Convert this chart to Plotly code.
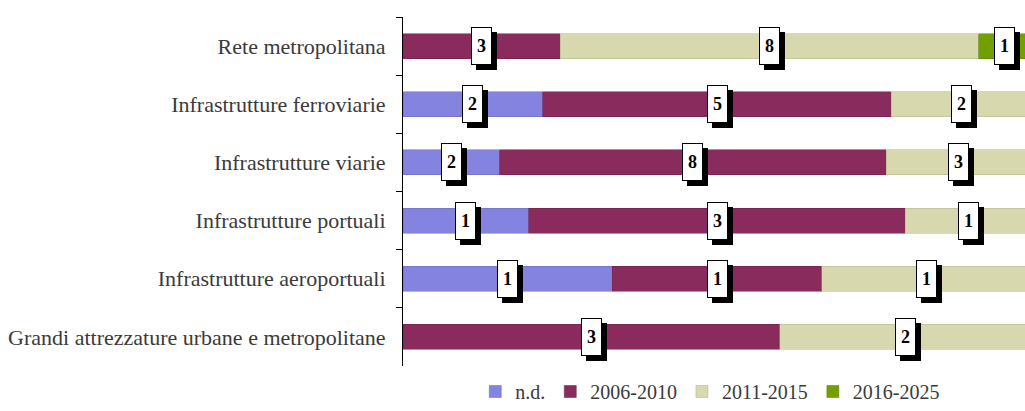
import plotly.graph_objects as go

categories = ["Rete metropolitana", "Infrastrutture ferroviarie", "Infrastrutture viarie",
              "Infrastrutture portuali", "Infrastrutture aeroportuali",
              "Grandi attrezzature urbane e metropolitane"]
series_names = ["n.d.", "2006-2010", "2011-2015", "2016-2025"]
nd = [0, 2, 2, 1, 1, 0]
v2006_2010 = [3, 5, 8, 3, 1, 3]
v2011_2015 = [8, 2, 3, 1, 1, 2]
v2016_2025 = [1, 0, 0, 0, 0, 0]

series = [nd, v2006_2010, v2011_2015, v2016_2025]
colors = ["#8484e0", "#892c5d", "#d8d8ae", "#72a000"]
line_colors = ["#6a6ab8", "#6e2048", "#b0b08c", "#5a8000"]

fig = go.Figure()
for name, vals, c, lc in zip(series_names, series, colors, line_colors):
    fig.add_trace(go.Bar(y=categories, x=vals, name=name, orientation="h",
                         marker=dict(color=c, line=dict(color=lc, width=0.5)),
                         hoverinfo="skip"))

# value labels in boxes with shadow
annotations = []
totals = [sum(s[i] for s in series) for i in range(len(categories))]
for i, cat in enumerate(categories):
    cum = 0
    for vals in series:
        v = vals[i]
        if v > 0:
            xc = (cum + v / 2) / totals[i]
            common = dict(x=xc, y=cat, xref="x", yref="y", showarrow=False,
                          width=17, height=34, borderpad=1, borderwidth=1,
                          font=dict(family="Liberation Serif", size=18, color="black"))
            annotations.append(dict(text="", bgcolor="black", bordercolor="black",
                                    xshift=5, yshift=-5, **common))
            annotations.append(dict(text="<b>%d</b>" % v, bgcolor="white",
                                    bordercolor="black", **common))
        cum += v

fig.update_layout(
    barmode="stack", barnorm="fraction", bargap=0.57,
    width=1025, height=411,
    margin=dict(l=403, r=0, t=17, b=45, autoexpand=False),
    plot_bgcolor="white", paper_bgcolor="white",
    font=dict(family="Liberation Serif", size=22, color="#3a3a3a"),
    showlegend=True,
    legend=dict(orientation="h", x=0.494, xanchor="center",
                yref="container", y=-0.014, yanchor="bottom",
                traceorder="normal", bgcolor="rgba(0,0,0,0)",
                font=dict(family="Liberation Serif", size=20, color="#3a3a3a"),
                itemwidth=30, tracegroupgap=0),
    annotations=annotations,
)
fig.update_xaxes(range=[0, 622 / 628], visible=False, fixedrange=True)
fig.update_yaxes(autorange="reversed", showline=True, linecolor="black", linewidth=1,
                 ticks="outside", tickson="boundaries", ticklen=6, tickcolor="black",
                 ticklabelstandoff=12, showgrid=False, fixedrange=True,
                 tickfont=dict(family="Liberation Serif", size=22, color="#3a3a3a"))

fig.write_html("out.html", config={"displayModeBar": False},
               post_script="document.body.style.margin='0';document.body.style.overflow='hidden';")
